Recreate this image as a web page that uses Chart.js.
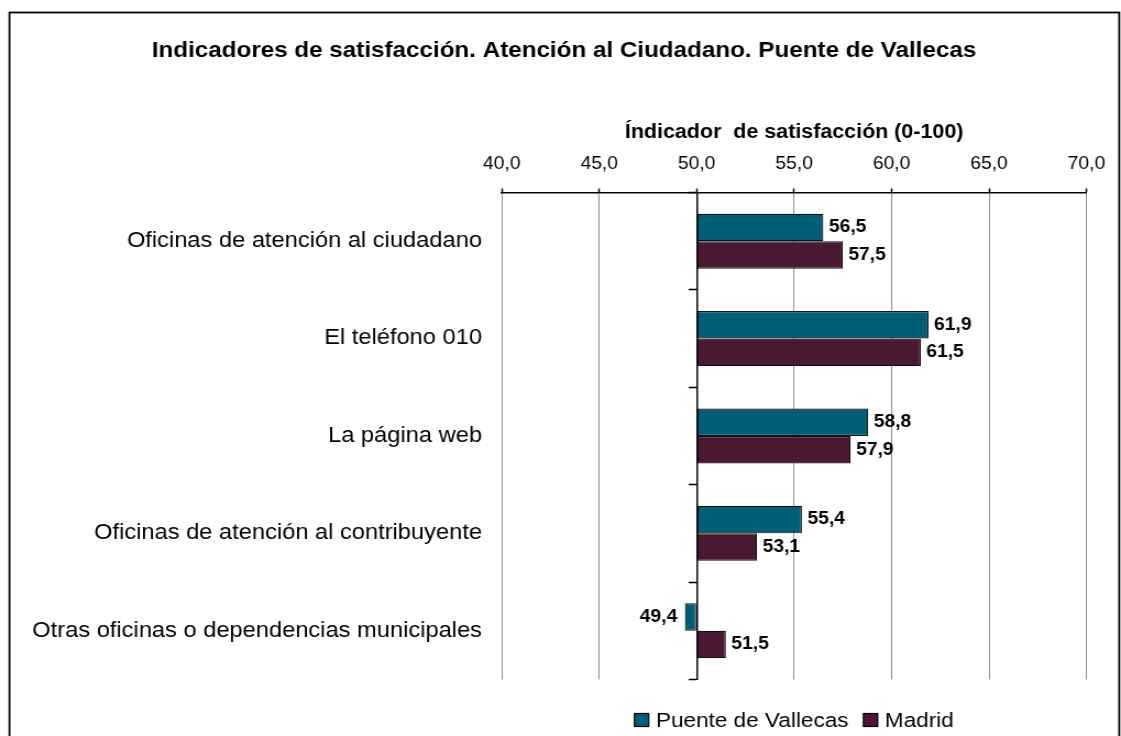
<!DOCTYPE html>
<html lang="es">
<head>
<meta charset="utf-8">
<title>Indicadores de satisfacción. Atención al Ciudadano. Puente de Vallecas</title>
<script src="https://cdn.jsdelivr.net/npm/chart.js"></script>
<style>
  html, body { margin: 0; padding: 0; background: #fff; overflow: hidden; }
  #wrap { width: 1121px; height: 736px; overflow: hidden; }
  /* the drawing is laid out on a slightly narrower canvas and widened to the page */
  #chart { display: block; transform: scaleX(1.1001); transform-origin: 0 0; }
</style>
</head>
<body>
<div id="wrap"><canvas id="chart" width="1019" height="736"></canvas></div>
<script>
// ---- data ----
const chartTitle = 'Indicadores de satisfacción. Atención al Ciudadano. Puente de Vallecas';
const axisTitle = 'Índicador  de satisfacción (0-100)';
const categories = [
  'Oficinas de atención al ciudadano',
  'El teléfono 010',
  'La página web',
  'Oficinas de atención al contribuyente',
  'Otras oficinas o dependencias municipales'
];
const seriesNames = ['Puente de Vallecas', 'Madrid'];
const puenteValues = [56.5, 61.9, 58.8, 55.4, 49.4];
const madridValues = [57.5, 61.5, 57.9, 53.1, 51.5];
const axisTicks = [40, 45, 50, 55, 60, 65, 70];
const barBase = 50;

// ---- styling ----
const FONT = '"Liberation Sans", Arial, Helvetica, sans-serif';
const seriesColors = ['#005f77', '#4a1832'];
const fmt = v => v.toFixed(1).replace('.', ',');

// frame, main title and legend
const decorations = {
  id: 'decorations',
  afterDraw(chart) {
    const ctx = chart.ctx;
    const area = chart.chartArea;
    ctx.save();
    // outer frame
    ctx.strokeStyle = '#000';
    ctx.lineWidth = 1.8;
    ctx.strokeRect(8.6, 12.5, 1017.4 - 8.6, 760);
    // main title
    ctx.fillStyle = '#000';
    ctx.font = 'bold 22px ' + FONT;
    ctx.textAlign = 'center';
    ctx.textBaseline = 'alphabetic';
    ctx.fillText(chartTitle, 512.7, 57);
    // legend, centred under the plot area
    ctx.font = '20.5px ' + FONT;
    const box = 13, gapText = 6.5, gapItem = 13.5;
    const widths = seriesNames.map(n => ctx.measureText(n).width);
    const total = widths.reduce((a, w) => a + box + gapText + w, 0) + gapItem * (seriesNames.length - 1);
    let x = (area.left + area.right) / 2 - total / 2;
    const boxTop = 713.5, baseline = 727;
    ctx.textAlign = 'left';
    seriesNames.forEach((name, i) => {
      ctx.fillStyle = seriesColors[i];
      ctx.fillRect(x, boxTop, box, box);
      ctx.strokeStyle = '#000';
      ctx.lineWidth = 1.2;
      ctx.strokeRect(x, boxTop, box, box);
      ctx.fillStyle = '#000';
      ctx.fillText(name, x + box + gapText, baseline);
      x += box + gapText + widths[i] + gapItem;
    });
    ctx.restore();
  }
};

// value labels at the end of each bar
const valueLabels = {
  id: 'valueLabels',
  afterDatasetsDraw(chart) {
    const ctx = chart.ctx;
    ctx.save();
    ctx.font = 'bold 17.5px ' + FONT;
    ctx.fillStyle = '#000';
    ctx.textBaseline = 'middle';
    chart.data.datasets.forEach((ds, di) => {
      const meta = chart.getDatasetMeta(di);
      meta.data.forEach((bar, i) => {
        const v = ds.data[i];
        if (v >= barBase) {
          ctx.textAlign = 'left';
          ctx.fillText(fmt(v), bar.x + 5, bar.y);
        } else {
          ctx.textAlign = 'right';
          ctx.fillText(fmt(v), bar.x - 7, bar.y);
        }
      });
    });
    ctx.restore();
  }
};

new Chart(document.getElementById('chart'), {
  type: 'bar',
  data: {
    labels: categories,
    datasets: [
      { label: seriesNames[0], data: puenteValues, base: barBase,
        backgroundColor: seriesColors[0], borderColor: '#111', borderWidth: 1.2, borderSkipped: false },
      { label: seriesNames[1], data: madridValues, base: barBase,
        backgroundColor: seriesColors[1], borderColor: '#111', borderWidth: 1.2, borderSkipped: false }
    ]
  },
  options: {
    indexAxis: 'y',
    responsive: false,
    animation: false,
    events: [],
    categoryPercentage: 0.565,
    barPercentage: 1.0,
    layout: { padding: { left: 0, right: 31.4, top: 0, bottom: 56.6 } },
    plugins: { legend: { display: false }, title: { display: false }, tooltip: { enabled: false } },
    scales: {
      x: {
        type: 'linear',
        position: 'top',
        min: axisTicks[0],
        max: axisTicks[axisTicks.length - 1],
        afterBuildTicks: s => { s.ticks = axisTicks.map(v => ({ value: v })); },
        afterFit: s => { s.height = 192.5; },
        ticks: {
          color: '#000',
          font: { family: FONT, size: 17.5 },
          padding: 13.5,
          maxRotation: 0,
          callback: v => fmt(v)
        },
        grid: { color: '#8f8f8f', lineWidth: 1, tickColor: '#000', tickLength: 4, tickWidth: 1.5 },
        border: { display: true, color: '#000', width: 1.5 },
        title: {
          display: true,
          text: axisTitle,
          color: '#000',
          font: { family: FONT, size: 19.5, weight: 'bold' },
          padding: { top: 120.5, bottom: 0 }
        }
      },
      y: {
        type: 'category',
        position: 'left',
        offset: true,
        afterFit: s => { s.width = 456.1; },
        ticks: { color: '#000', font: { family: FONT, size: 21.5 }, padding: 18, autoSkip: false },
        grid: { display: false, drawTicks: false },
        border: { display: false }
      },
      // the category axis drawn at the 50 line with its small tick marks
      yBase: {
        type: 'category',
        position: { x: barBase },
        offset: true,
        ticks: { display: false },
        grid: { display: true, offset: true, drawOnChartArea: false, drawTicks: true,
                tickLength: 7, tickColor: '#000', tickWidth: 1.5 },
        border: { display: true, color: '#000', width: 1.5 }
      }
    }
  },
  plugins: [decorations, valueLabels]
});
</script>
</body>
</html>
